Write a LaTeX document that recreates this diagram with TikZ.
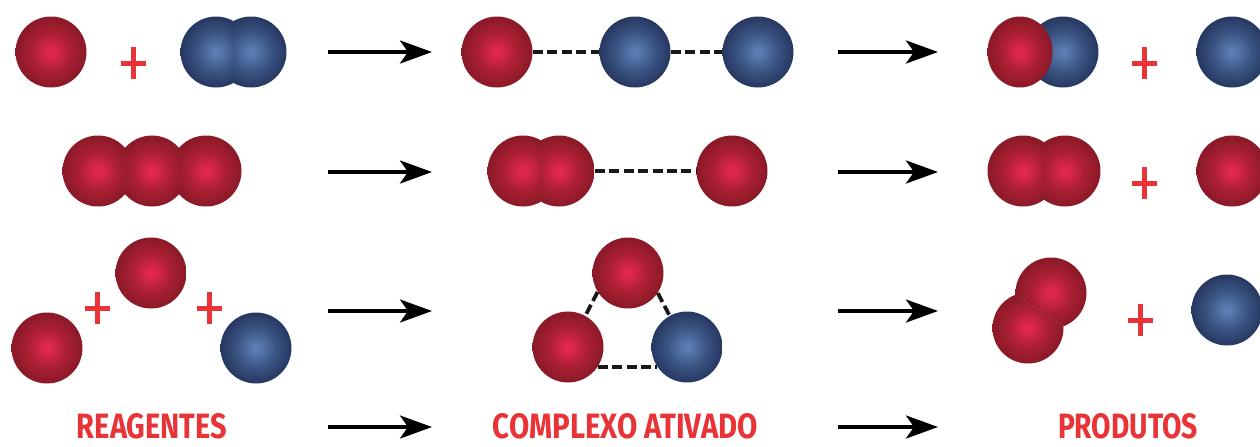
\documentclass[tikz,border=0pt]{standalone}
\usepackage{fontspec}
\setmainfont{Fira Sans}
\usepackage{graphicx}
\usetikzlibrary{arrows.meta,shapes.geometric}

% sphere colours
\definecolor{redhi}{RGB}{224,40,74}
\definecolor{redmid}{RGB}{170,31,50}
\definecolor{redlo}{RGB}{140,26,40}
\definecolor{bluehi}{RGB}{92,124,178}
\definecolor{bluemid}{RGB}{58,84,130}
\definecolor{bluelo}{RGB}{40,58,100}
\definecolor{labelred}{RGB}{232,52,55}
\definecolor{bondgray}{RGB}{24,24,24}

\pgfdeclareradialshading{redsphere}{\pgfpoint{0bp}{0bp}}{%
  color(0bp)=(redhi); color(2bp)=(redhi); color(14bp)=(redmid);
  color(24bp)=(redlo); color(25bp)=(redlo); color(50bp)=(redlo)}
\pgfdeclareradialshading{bluesphere}{\pgfpoint{0bp}{0bp}}{%
  color(0bp)=(bluehi); color(2bp)=(bluehi); color(14bp)=(bluemid);
  color(24bp)=(bluelo); color(25bp)=(bluelo); color(50bp)=(bluelo)}

\tikzset{
  sphere/.style={circle, inner sep=0pt, minimum size=35.5pt},
  redsph/.style={sphere, shade, shading=redsphere},
  bluesph/.style={sphere, shade, shading=bluesphere},
  bond/.style={bondgray, line width=1.9pt, dash pattern=on 5pt off 2.2pt},
  reaction/.style={line width=1.9pt, -{Stealth[length=16pt,width=11.5pt,inset=4pt]}},
  lab/.style={inner sep=0pt, text=labelred, font=\bfseries},
  pics/plussign/.style={code={
    \draw[labelred, line width=2.5pt] (-12.5,0) -- (12.5,0) (0,-16) -- (0,16);}}
}

\begin{document}
\begin{tikzpicture}[x=0.5pt, y=-0.5pt]
\useasboundingbox (0,0) rectangle (1260,446);

% ---------- row 1 ----------
\node[redsph]  (a1) at (51,52) {};
\pic at (133,63) {plussign};
% diatomic molecule: each atom cut at the common midline
\begin{scope}\clip (170,0) rectangle (233.5,110);
  \node[bluesph] (a2a) at (216,52) {};\end{scope}
\begin{scope}\clip (233.5,0) rectangle (300,110);
  \node[bluesph] (a2b) at (251,52) {};\end{scope}

\node[redsph]  (c1) at (497,52) {};
\node[bluesph] (c2) at (635,52) {};
\node[bluesph] (c3) at (758,52) {};

\node[bluesph] (p1b) at (1063,52) {};
\node[ellipse, inner sep=0pt, minimum width=32.5pt, minimum height=35.5pt,
      shade, shading=redsphere] (p1a) at (1020,52) {};
\pic at (1144,63) {plussign};
\node[bluesph] (p2) at (1232,52) {};

% ---------- row 2 ----------
\begin{scope}\clip (50,120) rectangle (125,225);
  \node[redsph] (d1) at (98,171) {};\end{scope}
\begin{scope}\clip (125,120) rectangle (179,225);
  \node[redsph] (d2) at (152,171) {};\end{scope}
\begin{scope}\clip (179,120) rectangle (260,225);
  \node[redsph] (d3) at (206,171) {};\end{scope}

\begin{scope}\clip (470,120) rectangle (541,225);
  \node[redsph] (e1) at (523,171) {};\end{scope}
\begin{scope}\clip (541,120) rectangle (610,225);
  \node[redsph] (e2) at (559,171) {};\end{scope}
\node[redsph] (e3) at (732,171) {};

\begin{scope}\clip (970,120) rectangle (1044,225);
  \node[redsph] (q1a) at (1023,171) {};\end{scope}
\begin{scope}\clip (1044,120) rectangle (1115,225);
  \node[redsph] (q1b) at (1065,171) {};\end{scope}
\pic at (1144,183) {plussign};
\node[redsph] (q2) at (1232,171) {};

% ---------- row 3 ----------
\node[redsph]  (f1) at (47,348) {};
\pic at (97.5,308) {plussign};
\node[redsph]  (f2) at (151,273) {};
\pic at (209.5,308) {plussign};
\node[bluesph] (f3) at (256,348) {};

\node[redsph]  (g1) at (628,273) {};
\node[redsph]  (g2) at (568,347) {};
\node[bluesph] (g3) at (687,347) {};

% tilted diatomic molecule, cut along the perpendicular bisector
\begin{scope}\clip (969.5,264.5) -- (1109.5,356.5) -- (1155.5,286.5) -- (1015.5,194.5) -- cycle;
  \node[redsph] (s1b) at (1051,293) {};\end{scope}
\begin{scope}\clip (969.5,264.5) -- (1109.5,356.5) -- (1063.5,426.5) -- (923.5,334.5) -- cycle;
  \node[redsph] (s1a) at (1028,328) {};\end{scope}
\pic at (1140.5,320) {plussign};
\node[bluesph] (s2) at (1227,310) {};

% ---------- bonds of the activated complexes ----------
\draw[bond] (c1) -- (c2);
\draw[bond] (c2) -- (c3);
\draw[bond] (e2) -- (e3);
\draw[bond] (g1.212) -- (g2.61);
\draw[bond] (g1.326) -- (g3.119);
\draw[bond] (g2.326) -- (g3.214);

% ---------- labels ----------
\node[lab] (lr) at (152,426) {\resizebox{75pt}{12.5pt}{REAGENTES}};
\node[lab] (lc) at (625.5,426) {\resizebox{132.5pt}{12.5pt}{COMPLEXO ATIVADO}};
\node[lab] (lp) at (1128,426) {\resizebox{70pt}{12.5pt}{PRODUTOS}};

% ---------- reaction arrows ----------
\foreach \r/\y in {1/52, 2/172, 3/311, 4/427} {
  \coordinate (u\r) at (328,\y);
  \coordinate (v\r) at (432,\y);
  \coordinate (w\r) at (838,\y);
  \coordinate (z\r) at (938,\y);
  \draw[reaction] (u\r) -- (v\r);
  \draw[reaction] (w\r) -- (z\r);
}
\end{tikzpicture}
\end{document}
